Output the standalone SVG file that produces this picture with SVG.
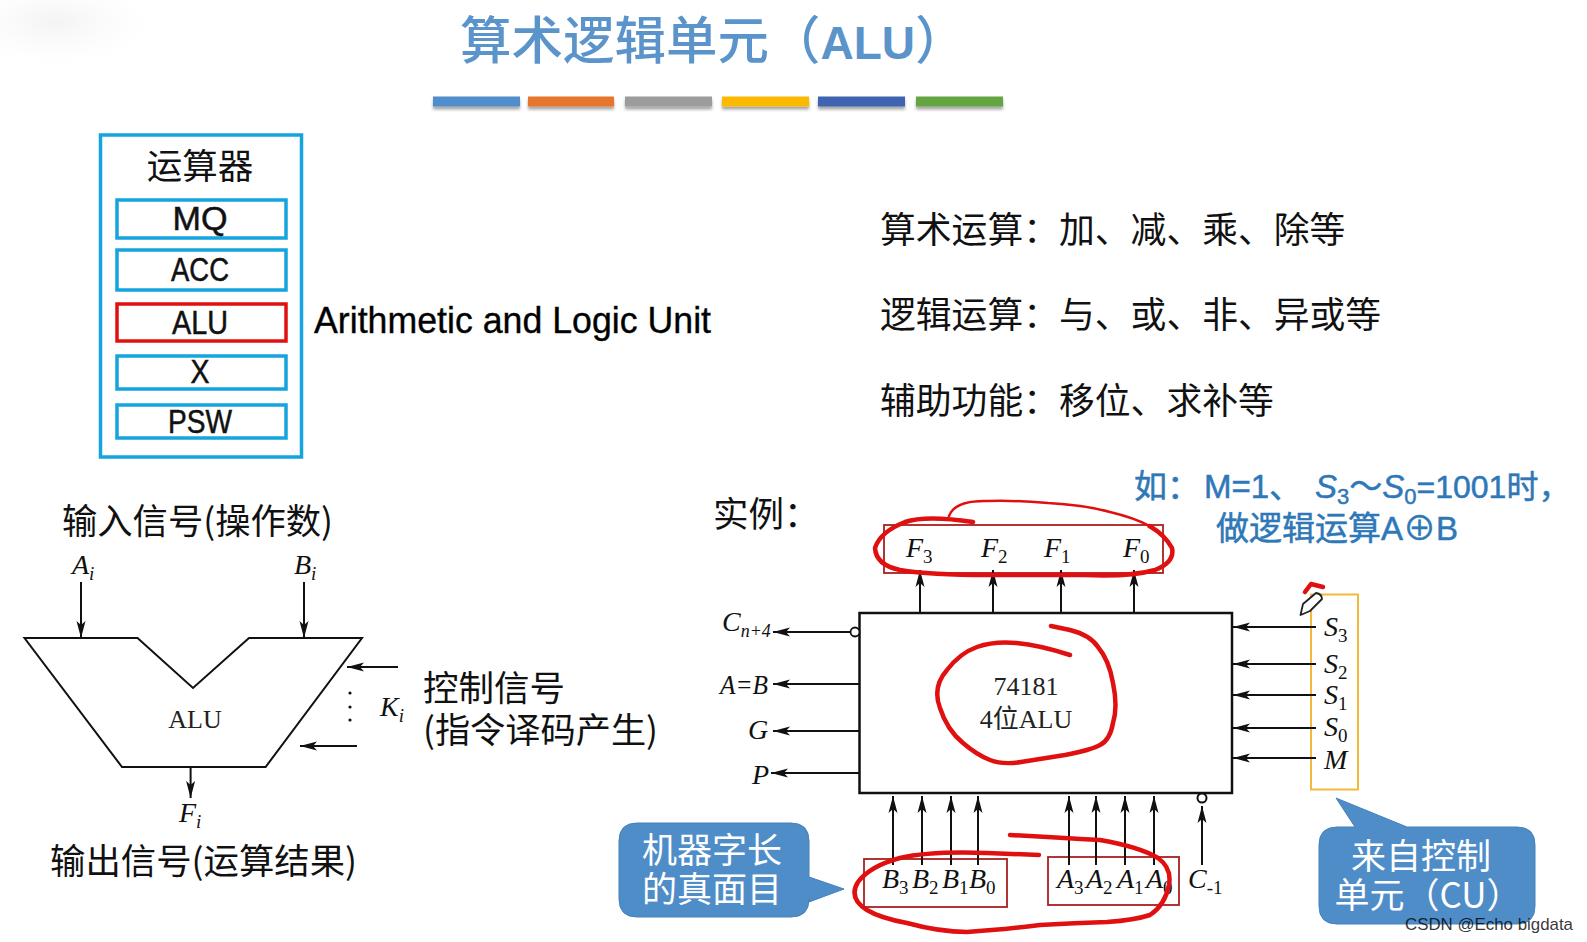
<svg xmlns="http://www.w3.org/2000/svg" width="1587" height="942" viewBox="0 0 1587 942">
<style>
text{font-family:"Liberation Sans","Noto Sans CJK SC",sans-serif;fill:#000}
.cjk{font-family:"Noto Sans CJK SC","Liberation Sans",sans-serif;font-size:35.500px;fill:#111}
.big{font-size:35.800px}
.reg{fill:#fff;stroke:#14a5e0;stroke-width:3.500}
.regt{font-size:33px;text-anchor:middle;fill:#111;stroke:#111;stroke-width:.5}
.it{font-family:"Liberation Serif",serif;font-style:italic;font-size:28px;fill:#111}
.it tspan{font-size:19px;font-style:normal}
.it tspan.i{font-style:italic}
.ser{font-family:"Liberation Serif","Noto Sans CJK SC",serif;font-size:26px;text-anchor:middle;fill:#222}
.ar{stroke:#111;stroke-width:2;fill:none;marker-end:url(#ah)}
.red{fill:none;stroke:#e01010;stroke-linecap:round;stroke-linejoin:round;stroke-width:4.500}
.rb{fill:none;stroke:#a82020;stroke-width:1.800}
.call{fill:#4f8dc9;stroke:#4482bd;stroke-width:1}
.ct{font-family:"Noto Sans CJK SC","Liberation Sans",sans-serif;font-size:35px;fill:#fff;text-anchor:middle}
.bl{font-family:"Liberation Sans","Noto Sans CJK SC",sans-serif;font-size:33px;fill:#2e78b8;stroke:#2e78b8;stroke-width:.5}
</style>
<defs>
<marker id="ah" markerUnits="userSpaceOnUse" markerWidth="18" markerHeight="10" refX="17" refY="5" orient="auto"><path d="M0 .5 L17 5 L0 9.500 L4 5 Z" fill="#111"/></marker>
<radialGradient id="fog"><stop offset="0" stop-color="#e8e8e8" stop-opacity=".5"/><stop offset="1" stop-color="#f4f4f4" stop-opacity="0"/></radialGradient>
<filter id="sh" x="-10%" y="-50%" width="120%" height="220%"><feDropShadow dx="0" dy="3" stdDeviation="1.500" flood-color="#000" flood-opacity=".35"/></filter>
</defs>
<rect width="1587" height="942" fill="#fff"/>
<ellipse cx="55" cy="22" rx="95" ry="42" fill="url(#fog)"/>

<g id="title">
<text x="460" y="59" font-size="51.500" font-weight="500" style="font-family:'Noto Sans CJK SC',sans-serif;fill:#5b94ca">算术逻辑单元（<tspan font-family="Liberation Sans" font-weight="700" font-size="46">ALU</tspan>）</text>
<g filter="url(#sh)">
<rect x="433" y="96.500" width="87" height="10" fill="#4f8dcb"/><rect x="528" y="96.500" width="86" height="10" fill="#e8752f"/><rect x="625" y="96.500" width="87" height="10" fill="#9c9c9c"/><rect x="722" y="96.500" width="87" height="10" fill="#fbb900"/><rect x="818" y="96.500" width="87" height="10" fill="#3f63b0"/><rect x="916" y="96.500" width="87" height="10" fill="#63a53f"/>
</g>
</g>

<g id="arith-unit">
<rect x="100.500" y="135" width="201" height="322" fill="#fff" stroke="#14a5e0" stroke-width="3.500"/>
<text x="200" y="179" class="cjk" text-anchor="middle">运算器</text>
</g>
<g id="reg-mq"><rect class="reg" x="117" y="200" width="169" height="38"/><text class="regt" x="200" y="230" textLength="55" lengthAdjust="spacingAndGlyphs">MQ</text></g>
<g id="reg-acc"><rect class="reg" x="117" y="250" width="169" height="40"/><text class="regt" x="200" y="281" textLength="58" lengthAdjust="spacingAndGlyphs">ACC</text></g>
<g id="reg-alu"><rect x="117" y="304" width="169" height="37" fill="#fff" stroke="#e01010" stroke-width="3.500"/><text class="regt" x="200" y="334" textLength="56" lengthAdjust="spacingAndGlyphs">ALU</text></g>
<g id="reg-x"><rect class="reg" x="117" y="356" width="169" height="33"/><text class="regt" x="200" y="383" textLength="19" lengthAdjust="spacingAndGlyphs">X</text></g>
<g id="reg-psw"><rect class="reg" x="117" y="405" width="169" height="33"/><text class="regt" x="200" y="433" textLength="64" lengthAdjust="spacingAndGlyphs">PSW</text></g>
<text x="314" y="333" font-size="37" textLength="397" lengthAdjust="spacingAndGlyphs" fill="#111" stroke="#111" stroke-width=".4">Arithmetic and Logic Unit</text>

<g id="alu-symbol">
<polygon points="24.500,638 137.500,638 193,688 249,638 362,638 265.600,767 122,767" fill="#fff" stroke="#111" stroke-width="2"/>
<text class="ser" x="195" y="728">ALU</text>
<text class="cjk" x="62" y="534" textLength="271" lengthAdjust="spacingAndGlyphs">输入信号(操作数)</text>
<text class="cjk" x="50" y="874" textLength="307" lengthAdjust="spacingAndGlyphs">输出信号(运算结果)</text>
<text class="cjk" x="423" y="701">控制信号</text>
<text class="cjk" x="423" y="743" textLength="235" lengthAdjust="spacingAndGlyphs">(指令译码产生)</text>
<text class="it" x="72" y="574">A<tspan class="i" dy="6">i</tspan></text>
<text class="it" x="294" y="574">B<tspan class="i" dy="6">i</tspan></text>
<text class="it" x="179" y="822">F<tspan class="i" dy="6">i</tspan></text>
<text class="it" x="380" y="716">K<tspan class="i" dy="6">i</tspan></text>
<circle cx="350" cy="693" r="1.600" fill="#111"/><circle cx="350" cy="707" r="1.600" fill="#111"/><circle cx="350" cy="720" r="1.600" fill="#111"/>
</g>

<g id="right-text">
<text class="cjk big" x="880" y="243">算术运算：加、减、乘、除等</text>
<text class="cjk big" x="880" y="328">逻辑运算：与、或、非、异或等</text>
<text class="cjk big" x="880" y="414">辅助功能：移位、求补等</text>
<text class="cjk" x="713" y="527">实例：</text>
<text class="bl" x="1134" y="498">如：<tspan x="1204">M=1、</tspan><tspan x="1315" font-style="italic">S</tspan><tspan font-size="22" dy="6">3</tspan><tspan dy="-6">～</tspan><tspan font-style="italic">S</tspan><tspan font-size="22" dy="6">0</tspan><tspan dy="-6" font-size="32">=1001时，</tspan></text>
<text class="bl" x="1216" y="540">做逻辑运算A⊕B</text>
</g>

<g id="chip-74181">
<rect x="859.500" y="613" width="372.500" height="180" fill="#fff" stroke="#111" stroke-width="2.500"/>
<text class="ser" x="1026" y="695">74181</text>
<text class="ser" x="1026" y="728">4位ALU</text>
</g>
<g id="f-outputs">
<rect class="rb" x="884" y="525" width="279" height="48"/>
<text class="it" x="906" y="557">F<tspan dy="6">3</tspan></text>
<text class="it" x="981" y="557">F<tspan dy="6">2</tspan></text>
<text class="it" x="1044" y="557">F<tspan dy="6">1</tspan></text>
<text class="it" x="1123" y="557">F<tspan dy="6">0</tspan></text>
</g>
<g id="status-outputs">
<circle cx="855" cy="632" r="4.500" fill="#fff" stroke="#111" stroke-width="1.800"/>
<text class="it" x="722" y="631">C<tspan class="i" dy="6" textLength="30" lengthAdjust="spacingAndGlyphs">n+4</tspan></text>
<text class="it" x="720" y="694" textLength="48" lengthAdjust="spacingAndGlyphs">A=B</text>
<text class="it" x="748" y="739">G</text>
<text class="it" x="752" y="784">P</text>
</g>
<g id="control-inputs">
<rect x="1311" y="594.500" width="47" height="195" fill="none" stroke="#f2b93b" stroke-width="2"/>
<text class="it" x="1324" y="636">S<tspan dy="6">3</tspan></text>
<text class="it" x="1324" y="673">S<tspan dy="6">2</tspan></text>
<text class="it" x="1324" y="704">S<tspan dy="6">1</tspan></text>
<text class="it" x="1324" y="736">S<tspan dy="6">0</tspan></text>
<text class="it" x="1324" y="769">M</text>
</g>
<g id="b-inputs">
<rect class="rb" x="864" y="859" width="143" height="48"/>
<text class="it" x="882" y="888">B<tspan dy="6">3</tspan></text>
<text class="it" x="912" y="888">B<tspan dy="6">2</tspan></text>
<text class="it" x="942" y="888">B<tspan dy="6">1</tspan></text>
<text class="it" x="969" y="888">B<tspan dy="6">0</tspan></text>
</g>
<g id="a-inputs">
<rect class="rb" x="1048" y="857" width="131" height="48"/>
<text class="it" x="1057" y="888">A<tspan dy="6">3</tspan></text>
<text class="it" x="1086" y="888">A<tspan dy="6">2</tspan></text>
<text class="it" x="1117" y="888">A<tspan dy="6">1</tspan></text>
<text class="it" x="1146" y="888">A<tspan dy="6">0</tspan></text>
</g>
<g id="carry-in">
<circle cx="1202" cy="798" r="4.500" fill="#fff" stroke="#111" stroke-width="2"/>
<text class="it" x="1188" y="888">C<tspan dy="6">-1</tspan></text>
</g>

<g id="callout-word">
<path class="call" d="M637 823 H791 Q809 823 809 841 V877 L844 889 L809 902 V899 Q809 917 791 917 H637 Q619 917 619 899 V841 Q619 823 637 823 Z"/>
<text class="ct" x="712" y="863">机器字长</text>
<text class="ct" x="712" y="902">的真面目</text>
</g>
<g id="callout-cu">
<path class="call" d="M1337 827 H1355 L1336 798 L1407 827 H1517 Q1535 827 1535 845 V906 Q1535 924 1517 924 H1337 Q1319 924 1319 906 V845 Q1319 827 1337 827 Z"/>
<text class="ct" x="1421" y="869">来自控制</text>
<text class="ct" x="1428" y="908">单元（CU）</text>
</g>

<g id="connectors">
<path class="ar" d="M81 582V638"/><path class="ar" d="M304 582V638"/><path class="ar" d="M190.600 767V798"/>
<path class="ar" d="M398 667H347"/><path class="ar" d="M357 746H300"/>
<path class="ar" d="M920 613V570"/><path class="ar" d="M993 613V570"/><path class="ar" d="M1061 613V570"/><path class="ar" d="M1134 613V570"/>
<path class="ar" d="M850 632H773"/><path class="ar" d="M859 684H773"/><path class="ar" d="M859 731H773"/><path class="ar" d="M859 773H771"/>
<path class="ar" d="M1316 627H1233"/><path class="ar" d="M1316 664H1233"/><path class="ar" d="M1316 695H1233"/><path class="ar" d="M1316 728H1233"/><path class="ar" d="M1316 758H1233"/>
<path class="ar" d="M893 865V796"/><path class="ar" d="M922 865V796"/><path class="ar" d="M951 865V796"/><path class="ar" d="M978 865V796"/>
<path class="ar" d="M1069 865V796"/><path class="ar" d="M1096 865V796"/><path class="ar" d="M1125 865V796"/><path class="ar" d="M1154 865V796"/>
<path class="ar" d="M1202 865V806"/>
</g>

<g id="annotations">
<path class="red" d="M973 522 Q926 515 905 522 Q880 532 875 548 Q876 565 900 570 Q930 575 988 575 L1084 575 Q1130 577 1155 570 Q1175 562 1172 548 Q1165 535 1149.500 526"/>
<path class="red" style="stroke-width:2.500" d="M1149.500 526 Q1135 518 1110 512 Q1085 505 1048 503 Q1011 500 988 501 Q955 500 949 516"/>
<path class="red" d="M1070 655 Q1039 645 1016.500 643 Q994 641 977 647 Q960 653 947 670 Q932 687 940 708 Q947 730 963 743 Q977 755 990 760 Q1003 765 1021 762 Q1040 759 1065 755 Q1091 750 1100 745 Q1110 740 1113 723 Q1118 707 1113 683 Q1109 660 1098 647 Q1090 635 1070 630 L1051 626"/>
<path class="red" d="M1039 855 L987 853 Q930 851 900 858 Q870 866 858 882 Q848 898 867 910 Q880 918 907 923 Q940 932 967 932 Q1000 930 1040 925 Q1075 923 1107 922 Q1135 920 1150 915 Q1165 905 1169 885 Q1172 868 1158 858 Q1140 847 1100 840 Q1060 838 1010 835"/>
<path class="red" d="M1305 592 L1311 584 L1323 587"/>
<path d="M1300.500 615 L1303 604 L1316 593 Q1322 594 1322 599 L1310 611 Z" fill="#fff" stroke="#222" stroke-width="1.800" stroke-linejoin="round"/>
<text x="1405" y="930" font-size="17" fill="#777" fill-opacity=".8" textLength="168" lengthAdjust="spacingAndGlyphs">CSDN @Echo bigdata</text>
</g>
</svg>
